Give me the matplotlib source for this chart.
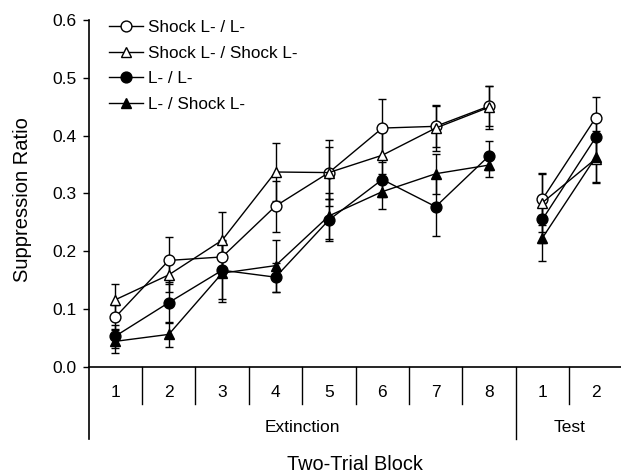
import matplotlib.pyplot as plt
import numpy as np
from matplotlib.lines import Line2D

plt.rcParams["font.family"] = ["Liberation Sans", "DejaVu Sans"]

ext_blocks = [1, 2, 3, 4, 5, 6, 7, 8]
test_blocks = [1, 2]
tick_labels = ["1", "2", "3", "4", "5", "6", "7", "8", "1", "2"]
phases = ["Extinction", "Test"]

series_names = ["Shock L- / L-", "Shock L- / Shock L-", "L- / L-", "L- / Shock L-"]

shock_l_l_ext = [0.086, 0.184, 0.190, 0.278, 0.336, 0.413, 0.416, 0.451]
shock_l_l_test = [0.290, 0.431]
shock_l_l_ext_err = [0.020, 0.040, 0.030, 0.044, 0.045, 0.050, 0.035, 0.035]
shock_l_l_test_err = [0.045, 0.036]

shock_shock_ext = [0.116, 0.159, 0.219, 0.337, 0.336, 0.366, 0.413, 0.449]
shock_shock_test = [0.284, 0.360]
shock_shock_ext_err = [0.028, 0.030, 0.048, 0.050, 0.057, 0.040, 0.040, 0.037]
shock_shock_test_err = [0.050, 0.040]

l_l_ext = [0.053, 0.111, 0.167, 0.155, 0.254, 0.324, 0.277, 0.365]
l_l_test = [0.255, 0.397]
l_l_ext_err = [0.020, 0.035, 0.050, 0.025, 0.037, 0.030, 0.050, 0.025]
l_l_test_err = [0.040, 0.040]

l_shock_ext = [0.044, 0.056, 0.162, 0.175, 0.261, 0.303, 0.334, 0.349]
l_shock_test = [0.223, 0.363]
l_shock_ext_err = [0.020, 0.022, 0.050, 0.045, 0.040, 0.030, 0.035, 0.020]
l_shock_test_err = [0.040, 0.045]

groups = [
    (shock_l_l_ext, shock_l_l_ext_err, shock_l_l_test, shock_l_l_test_err, "o", "white"),
    (shock_shock_ext, shock_shock_ext_err, shock_shock_test, shock_shock_test_err, "^", "white"),
    (l_l_ext, l_l_ext_err, l_l_test, l_l_test_err, "o", "black"),
    (l_shock_ext, l_shock_ext_err, l_shock_test, l_shock_test_err, "^", "black"),
]

fig = plt.figure(figsize=(6.21, 4.74), dpi=100)
ax = fig.add_axes([88.7 / 621, 1 - 439 / 474, (622.5 - 88.7) / 621, (439 - 20) / 474])

x_ext = np.array(ext_blocks)
x_test = np.array(test_blocks) + len(ext_blocks)

handles = []
for name, (ye, ee, yt, et, mk, fc) in zip(series_names, groups):
    style = dict(color="black", marker=mk, markerfacecolor=fc, markeredgecolor="black",
                 markersize=7.8, markeredgewidth=1.0, linewidth=1.0, elinewidth=1.0,
                 capsize=3, capthick=1.0)
    ax.errorbar(x_ext, ye, yerr=ee, **style)
    ax.errorbar(x_test, yt, yerr=et, **style)
    handles.append(Line2D([], [], color="black", lw=1.0, marker=mk, markersize=7.8,
                          markerfacecolor=fc, markeredgecolor="black", label=name))

ax.set_xlim(0.5, 10.5)
ax.set_ylim(-0.125, 0.6)
ax.set_yticks([0.0, 0.1, 0.2, 0.3, 0.4, 0.5, 0.6])
ax.set_yticklabels(["0.0", "0.1", "0.2", "0.3", "0.4", "0.5", "0.6"])
ax.set_xticks([])
ax.tick_params(axis="y", direction="out", length=4, width=1, pad=5, labelsize=12.5)

for s in ["top", "right", "bottom"]:
    ax.spines[s].set_visible(False)
ax.spines["left"].set_linewidth(1.2)

# x "axis" drawn by hand as a table under y = 0
ax.plot([0.5, 10.5], [0, 0], color="black", lw=1.2, clip_on=False)
for b in np.arange(1.5, 10.5, 1.0):
    bottom = -0.125 if b == 8.5 else -0.0646
    ax.plot([b, b], [0, bottom], color="black", lw=1.0, clip_on=False)
ax.plot([10.5, 10.5], [0, -0.125], color="black", lw=1.0, clip_on=False)

for i, lab in enumerate(tick_labels):
    ax.text(i + 1, -0.045, lab, ha="center", va="center", fontsize=12.5)
ax.text(4.5, -0.105, phases[0], ha="center", va="center", fontsize=12.5)
ax.text(9.5, -0.105, phases[1], ha="center", va="center", fontsize=12.5)

ax.set_ylabel("Suppression Ratio", fontsize=14.5)
ax.yaxis.set_label_coords(-0.107, 0.29, transform=ax.get_yaxis_transform())
fig.text(355 / 621, 1 - 465 / 474, "Two-Trial Block", ha="center", va="center", fontsize=14.3)

ax.legend(handles=handles, loc="upper left", bbox_to_anchor=(109 / 621, 1 - 20 / 474),
          bbox_transform=fig.transFigure, frameon=False, fontsize=12.3,
          handlelength=2.0, handletextpad=0.3, labelspacing=0.62, borderpad=0,
          borderaxespad=0, numpoints=1)

fig.savefig("out.png", dpi=100)
